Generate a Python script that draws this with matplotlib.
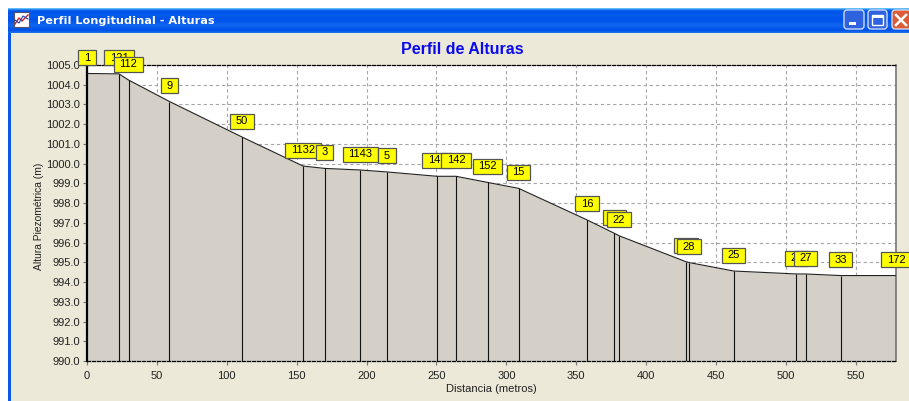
import numpy as np
import matplotlib
matplotlib.use('Agg')
import matplotlib.pyplot as plt
from matplotlib.patches import Rectangle, FancyBboxPatch
from matplotlib.path import Path

plt.rcParams['font.family'] = ['Liberation Sans', 'DejaVu Sans']

# Distancia (m), altura (m) y nombre de cada nudo
distancia = [0, 22.9, 29.7, 59.0, 110.9, 154.5, 169.9, 195.3, 214.6, 250.4, 264.0,
             286.5, 308.7, 357.7, 377.3, 380.5, 428.5, 430.6, 462.6, 507.5, 514.0,
             539.0, 578.7]
altura = [1004.57, 1004.55, 1004.24, 1003.15, 1001.35, 999.88, 999.76, 999.68, 999.58,
          999.36, 999.36, 999.05, 998.75, 997.15, 996.47, 996.35, 995.03, 994.99,
          994.56, 994.41, 994.41, 994.33, 994.33]
nudos = ['1', '121', '112', '9', '50', '1132', '3', '1143', '5', '141', '142', '152',
         '15', '16', '21', '22', '26', '28', '25', '26', '27', '33', '172']
x_ticks = list(range(0, 551, 50))
y_ticks = list(range(990, 1006))

W, H = 909, 401
BEIGE = '#ECE9D8'


def caja_nudo(x0, y0, width, height, mutation_scale):
    # caja de alto fijo (15 px), mas ancha que el texto
    cy = y0 + height / 2
    x1, x2 = x0 - 5.5, x0 + width + 5.5
    y1, y2 = cy - 7.5, cy + 7.5
    return Path([(x1, y1), (x2, y1), (x2, y2), (x1, y2), (x1, y1)], closed=True)


fig = plt.figure(figsize=(W / 100, H / 100), dpi=100, facecolor='white')

# Marco de la ventana, en pixeles
bg = fig.add_axes([0, 0, 1, 1], zorder=0)
bg.set_xlim(0, W)
bg.set_ylim(H, 0)
bg.axis('off')
bg.add_patch(Rectangle((8, 8), W - 8, H - 8, fc=BEIGE, ec='none'))
bg.add_patch(Rectangle((8, 8), 3, H - 8, fc='#0A55EA', ec='none'))
grad = np.array([[0.75], [0.35], [0.1], [0.0], [0.0], [0.02], [0.05], [0.05], [0.03],
                 [0.0], [0.0], [0.0], [0.0], [0.02], [0.05], [0.08], [0.12], [0.12],
                 [0.08], [0.05], [0.02], [0.0], [0.0], [0.1], [0.2]])
rgb = np.zeros((25, 1, 3))
rgb[..., 0] = 0.0 + grad * 0.5
rgb[..., 1] = 0.33 + grad * 0.55
rgb[..., 2] = 0.92 + grad * 0.08
bg.imshow(rgb, extent=(8, W, 33, 8), aspect='auto', interpolation='bilinear', zorder=1)
bg.set_xlim(0, W)
bg.set_ylim(H, 0)
bg.text(37, 20.5, 'Perfil Longitudinal - Alturas', color='white', fontsize=8.1,
        fontweight='bold', family='DejaVu Sans', va='center', ha='left', zorder=3)

# Icono
bg.add_patch(Rectangle((14, 12), 15, 15, fc='white', ec='#555566', lw=0.8, zorder=3))
bg.plot([15, 19, 22, 28], [24, 18, 21, 15], color='#D02020', lw=1, zorder=4)
bg.plot([15, 19, 23, 28], [20, 23, 16, 19], color='#2040C0', lw=0.8, zorder=4)

# Botones
for x0, x1, col in [(843, 865, '#2F62DF'), (867, 888, '#2F62DF'), (891, 912, '#DC5A36')]:
    bg.add_patch(FancyBboxPatch((x0 + 1, 10), x1 - x0 - 2, 19,
                                boxstyle='round,pad=0,rounding_size=3',
                                fc=col, ec='#DCE6FA', lw=0.9, zorder=3))
bg.add_patch(Rectangle((849, 22), 7, 3, fc='white', ec='none', zorder=4))
bg.add_patch(Rectangle((872, 15), 11, 10, fc='none', ec='white', lw=1, zorder=4))
bg.add_patch(Rectangle((872, 15), 11, 2.5, fc='white', ec='none', zorder=4))
bg.plot([896, 906], [15, 25], color='white', lw=1.8, zorder=4)
bg.plot([896, 906], [25, 15], color='white', lw=1.8, zorder=4)

# Grafico
left, right, top, bottom = 87, 896, 65, 361
ax = fig.add_axes([left / W, (H - bottom) / H, (right - left) / W, (bottom - top) / H],
                  zorder=2, facecolor='white')
ax.set_xlim(0, distancia[-1])
ax.set_ylim(990, 1005)

ax.fill_between(distancia, altura, 990, color='#D4D0C8', lw=0, zorder=2)
ax.plot(distancia, altura, color='#222222', lw=0.8, zorder=3)
ax.vlines(distancia[1:-1], 990, altura[1:-1], color='#111111', lw=0.8, zorder=3)
ax.vlines(distancia[-1], 990, altura[-1], color='#555555', lw=0.8, zorder=3)

ax.set_xticks(x_ticks)
ax.set_yticks(y_ticks)
ax.set_yticklabels(['%.1f' % v for v in y_ticks])
ax.grid(True, color='#A6A6A6', ls=(0, (3, 2.5)), lw=0.8, zorder=1)
ax.set_axisbelow(True)
ax.tick_params(axis='both', labelsize=8, length=3, width=0.8, color='#777777',
               labelcolor='#222222')
ax.tick_params(axis='x', pad=4)
ax.tick_params(axis='y', pad=2)

ax.spines['left'].set_linewidth(1.6)
ax.spines['left'].set_color('black')
ax.spines['right'].set_color('#777777')
ax.spines['right'].set_linewidth(1.2)
for s in ['top', 'bottom']:
    ax.spines[s].set_color('black')
    ax.spines[s].set_linewidth(0.9)
    ax.spines[s].set_linestyle((0, (2.5, 1.5)))

ax.text((462 - left) / (right - left), 1 + (top - 49) / (bottom - top), 'Perfil de Alturas',
        transform=ax.transAxes, color='#0A0AEE', fontsize=11.5, fontweight='bold',
        ha='center', va='center')
ax.set_xlabel('Distancia (metros)', fontsize=8, color='#222222', labelpad=2.5)
ax.set_ylabel('Altura Piezométrica (m)', fontsize=7.4, color='#222222', labelpad=1.5, y=0.49)

# Etiquetas de los nudos
for i, (d, h, n) in enumerate(zip(distancia, altura, nudos)):
    ax.annotate(n, (d, h), xytext=(0, 11.5), textcoords='offset points', ha='center',
                va='center', fontsize=8, color='black', annotation_clip=False, zorder=10 + i,
                bbox=dict(boxstyle=caja_nudo, fc='#FFFF00', ec='#555555', lw=0.9))

fig.savefig('out.png', dpi=100)
